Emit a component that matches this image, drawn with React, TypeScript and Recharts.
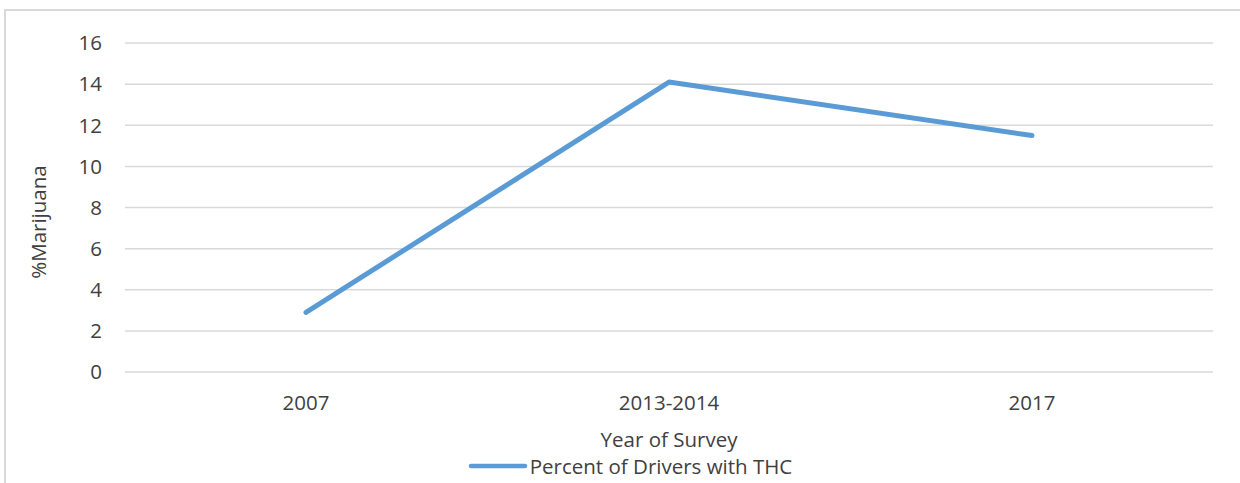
import React from 'react';
import { LineChart, Line, XAxis, YAxis, CartesianGrid, Legend } from 'recharts';

const categories = ['2007', '2013-2014', '2017'];
const thcValues = [2.9, 14.1, 11.5];
const yTicks = [0, 2, 4, 6, 8, 10, 12, 14, 16];
const seriesName = 'Percent of Drivers with THC';

const data = categories.map((c, i) => ({ year: c, thc: thcValues[i] }));

const FONT = '"Open Sans", "Noto Sans", sans-serif';
const TEXT = '#404040';

const LegendContent = () => (
  <div style={{ display: 'flex', justifyContent: 'center', alignItems: 'center', fontFamily: FONT, fontSize: 20.5, color: TEXT, paddingLeft: 20 }}>
    <svg width={60} height={10} style={{ marginRight: 2 }}>
      <line x1={3} y1={5} x2={57} y2={5} stroke="#5b9bd5" strokeWidth={4.5} strokeLinecap="round" />
    </svg>
    <span>{seriesName}</span>
  </div>
);

export default function App() {
  return (
    <div style={{ position: 'fixed', left: 0, top: 0, width: 1240, height: 483, overflow: 'hidden', background: '#fff' }}>
      <div style={{ position: 'absolute', left: 4, top: 9, width: 1300, height: 600, border: '2px solid #d9d9d9', boxSizing: 'border-box' }} />
      <div style={{ position: 'absolute', left: 0, top: 0 }}>
        <LineChart width={1240} height={483} data={data} margin={{ top: 43, right: 27, bottom: 0, left: 0 }}>
          <CartesianGrid vertical={false} stroke="#d9d9d9" strokeWidth={1.5} />
          <XAxis
            dataKey="year"
            axisLine={false}
            tickLine={false}
            height={83}
            padding={{ left: 181, right: 181 }}
            tick={{ fill: TEXT, fontSize: 20.5, fontFamily: FONT }}
            tickMargin={17}
            label={{
              content: () => (
                <text x={669} y={447} textAnchor="middle" fill={TEXT} fontSize={20.5} fontFamily={FONT}>
                  Year of Survey
                </text>
              ),
            }}
          />
          <YAxis
            domain={[0, 16]}
            ticks={yTicks}
            width={125}
            axisLine={false}
            tickLine={false}
            tickMargin={17}
            tick={{ fill: TEXT, fontSize: 20.5, fontFamily: FONT }}
            label={{
              content: () => (
                <text x={46} y={222} textAnchor="middle" fill={TEXT} fontSize={20.5} fontFamily={FONT} transform="rotate(-90 46 222)">
                  %Marijuana
                </text>
              ),
            }}
          />
          <Legend content={<LegendContent />} wrapperStyle={{ position: 'absolute', top: 452, left: 0, width: 1240 }} />
          <Line
            type="linear"
            dataKey="thc"
            name={seriesName}
            stroke="#5b9bd5"
            strokeWidth={5}
            strokeLinecap="round"
            strokeLinejoin="round"
            dot={false}
            activeDot={false}
            isAnimationActive={false}
          />
        </LineChart>
      </div>
    </div>
  );
}
